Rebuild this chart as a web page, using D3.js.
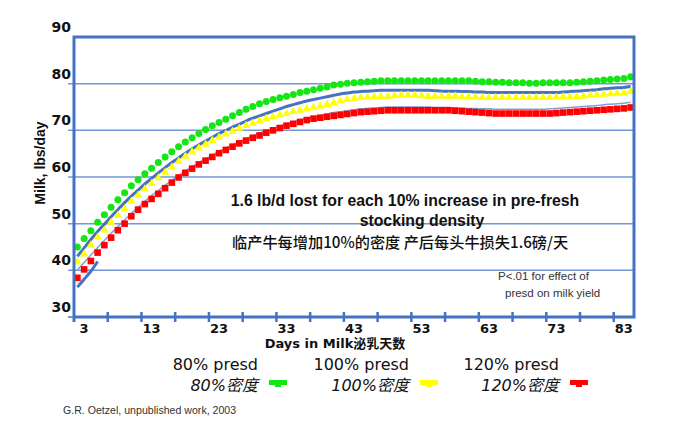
<!DOCTYPE html>
<html lang="zh">
	<head>
		<meta charset="utf-8">
		<title>Milk yield by pre-fresh stocking density</title>
		<style>
			body { margin: 0; background: #fff; }
			#graph text { fill: #111; }
		</style>
	</head>
	<body>
		<svg id="graph" width="682" height="428"></svg>
		<script src="https://d3js.org/d3.v7.min.js"></script>
		<script>
			"use strict";

			// days in milk 2..84, one category per day
			var days = d3.range(2, 85);
			var dayLabels = [3, 13, 23, 33, 43, 53, 63, 73, 83];
			var yTicks = [30, 40, 50, 60, 70, 80, 90];

			var green80 = [
				45.0, 46.8, 48.5, 50.3, 51.9, 53.5, 55.1, 56.6, 58.1, 59.4,
				60.7, 61.9, 63.1, 64.3, 65.4, 66.5, 67.5, 68.4, 69.3, 70.2,
				71.0, 71.7, 72.4, 73.1, 73.8, 74.5, 75.1, 75.7, 76.2, 76.6,
				77.0, 77.3, 77.7, 78.1, 78.4, 78.7, 79.0, 79.3, 79.7, 79.9,
				80.1, 80.2, 80.3, 80.4, 80.5, 80.6, 80.6, 80.6, 80.6, 80.6,
				80.6, 80.6, 80.6, 80.6, 80.6, 80.6, 80.6, 80.6, 80.6, 80.5,
				80.4, 80.4, 80.3, 80.3, 80.2, 80.2, 80.2, 80.1, 80.1, 80.2,
				80.2, 80.2, 80.2, 80.2, 80.3, 80.4, 80.5, 80.6, 80.8, 80.9,
				81.0, 81.1, 81.5
			];
			var yellow100 = [
				41.8, 43.5, 45.4, 47.1, 48.6, 50.3, 51.8, 53.2, 54.8, 56.1,
				57.4, 58.6, 59.8, 61.0, 62.1, 63.3, 64.4, 65.4, 66.2, 67.0,
				67.8, 68.5, 69.2, 69.8, 70.4, 71.0, 71.5, 72.0, 72.5, 72.9,
				73.3, 73.6, 74.0, 74.3, 74.6, 74.9, 75.2, 75.5, 75.9, 76.3,
				76.6, 76.8, 77.0, 77.1, 77.2, 77.2, 77.3, 77.4, 77.5, 77.5,
				77.5, 77.4, 77.3, 77.3, 77.3, 77.3, 77.3, 77.2, 77.2, 77.1,
				77.0, 77.0, 77.0, 77.0, 77.0, 77.0, 77.0, 77.0, 77.0, 77.0,
				77.0, 77.1, 77.2, 77.2, 77.2, 77.3, 77.5, 77.6, 77.7, 77.8,
				77.9, 78.0, 78.3
			];
			var red120 = [
				38.4, 40.2, 42.0, 43.8, 45.4, 47.0, 48.6, 50.0, 51.6, 53.0,
				54.2, 55.3, 56.4, 57.6, 58.8, 59.9, 60.9, 61.8, 62.7, 63.5,
				64.3, 65.1, 65.8, 66.5, 67.2, 67.8, 68.4, 68.9, 69.5, 70.0,
				70.5, 71.0, 71.4, 71.8, 72.2, 72.5, 72.7, 72.9, 73.1, 73.3,
				73.5, 73.7, 73.9, 74.0, 74.1, 74.2, 74.3, 74.3, 74.3, 74.3,
				74.3, 74.3, 74.3, 74.3, 74.3, 74.3, 74.2, 74.1, 74.0, 73.9,
				73.8, 73.7, 73.6, 73.6, 73.6, 73.6, 73.6, 73.6, 73.6, 73.6,
				73.6, 73.7, 73.8, 73.9, 74.0, 74.1, 74.2, 74.3, 74.4, 74.5,
				74.6, 74.7, 74.9
			];
			// fitted curves drawn behind the markers
			var upperLine = [
				43.0, 44.8, 46.6, 48.3, 49.9, 51.5, 53.0, 54.5, 55.9, 57.2,
				58.5, 59.7, 60.9, 62.0, 63.1, 64.1, 65.1, 66.0, 66.9, 67.7,
				68.5, 69.3, 70.0, 70.7, 71.3, 72.0, 72.6, 73.1, 73.6, 74.1,
				74.6, 75.1, 75.5, 75.9, 76.3, 76.6, 76.9, 77.2, 77.5, 77.8,
				78.0, 78.2, 78.3, 78.4, 78.5, 78.6, 78.6, 78.6, 78.6, 78.6,
				78.6, 78.6, 78.6, 78.5, 78.4, 78.4, 78.4, 78.3, 78.3, 78.2,
				78.2, 78.1, 78.1, 78.1, 78.1, 78.1, 78.1, 78.1, 78.1, 78.1,
				78.1, 78.1, 78.2, 78.3, 78.4, 78.5, 78.6, 78.7, 78.9, 79.0,
				79.1, 79.2, 79.4
			];
			var thinLine = [
				40.1, 41.7, 43.3, 44.9, 46.4, 47.9, 49.4, 50.8, 52.2, 53.5,
				54.8, 56.0, 57.1, 58.2, 59.3, 60.3, 61.3, 62.2, 63.1, 63.9,
				64.7, 65.5, 66.2, 66.9, 67.6, 68.2, 68.8, 69.4, 69.9, 70.4,
				70.9, 71.4, 71.8, 72.2, 72.6, 72.9, 73.2, 73.5, 73.8, 74.0,
				74.2, 74.4, 74.6, 74.7, 74.8, 74.9, 75.0, 75.0, 75.0, 75.0,
				75.0, 75.0, 75.0, 74.9, 74.9, 74.9, 74.8, 74.8, 74.7, 74.7,
				74.6, 74.6, 74.5, 74.5, 74.5, 74.5, 74.5, 74.5, 74.5, 74.5,
				74.6, 74.7, 74.8, 74.9, 75.0, 75.1, 75.2, 75.3, 75.5, 75.6,
				75.7, 75.8, 76.0
			];
			var lowerLine = [36.4, 38.1, 39.8, 41.9];

			var blue = "#4472c4";
			var plotLeft = 74, plotRight = 634, plotTop = 37, plotBottom = 317;

			var svg = d3.select("#graph");
			var x = d3.scaleBand().domain(days).range([plotLeft, plotRight]).padding(0);
			var y = d3.scaleLinear().domain([30, 90]).range([plotBottom, plotTop]);
			var cx = function(d){ return x(d) + x.bandwidth() / 2; };

			// horizontal gridlines
			svg.append("g")
				.selectAll("line")
				.data(yTicks.filter(function(v){ return v > 30 && v < 90; }))
				.enter()
				.append("line")
				.attr("x1", plotLeft - 6)
				.attr("x2", plotRight)
				.attr("y1", function(d){ return y(d); })
				.attr("y2", function(d){ return y(d); })
				.attr("stroke", "#7396d6")
				.attr("stroke-width", 1.5);

			// fitted lines
			var line = d3.line()
				.x(function(d, i){ return cx(days[i]); })
				.y(function(d){ return y(d); })
				.curve(d3.curveMonotoneX);
			svg.append("path").datum(upperLine).attr("d", line)
				.attr("fill", "none").attr("stroke", blue).attr("stroke-width", 3);
			svg.append("path").datum(thinLine).attr("d", line)
				.attr("fill", "none").attr("stroke", "#7f9fd8").attr("stroke-width", 1.5);
			svg.append("path").datum(lowerLine).attr("d", line)
				.attr("fill", "none").attr("stroke", blue).attr("stroke-width", 3);

			// markers
			svg.append("g")
				.selectAll("circle")
				.data(green80)
				.enter()
				.append("circle")
				.attr("cx", function(d, i){ return cx(days[i]); })
				.attr("cy", function(d){ return y(d); })
				.attr("r", 3.5)
				.attr("fill", "#14e614");

			var tri = d3.symbol().type(d3.symbolTriangle).size(30);
			svg.append("g")
				.selectAll("path")
				.data(yellow100)
				.enter()
				.append("path")
				.attr("d", tri)
				.attr("transform", function(d, i){ return "translate(" + cx(days[i]) + "," + y(d) + ")"; })
				.attr("fill", "#ffff00");

			svg.append("g")
				.selectAll("rect")
				.data(red120)
				.enter()
				.append("rect")
				.attr("x", function(d, i){ return cx(days[i]) - 3.3; })
				.attr("y", function(d){ return y(d) - 3.3; })
				.attr("width", 6.6)
				.attr("height", 6.6)
				.attr("fill", "#ff0000");

			// plot frame
			svg.append("path")
				.attr("d", "M" + plotLeft + "," + (plotBottom + 5) + "V" + plotTop + "H" + plotRight + "V" + plotBottom + "H" + plotLeft)
				.attr("fill", "none")
				.attr("stroke", blue)
				.attr("stroke-width", 3);
			svg.append("line")
				.attr("x1", plotLeft - 6).attr("x2", plotLeft)
				.attr("y1", plotBottom).attr("y2", plotBottom)
				.attr("stroke", blue).attr("stroke-width", 1.5);

			// x tick marks every 5 days (between categories)
			svg.append("g")
				.selectAll("line")
				.data(days.filter(function(d, i){ return i % 5 === 0 && i > 0; }))
				.enter()
				.append("line")
				.attr("x1", function(d){ return x(d); })
				.attr("x2", function(d){ return x(d); })
				.attr("y1", plotBottom - 5)
				.attr("y2", plotBottom + 5)
				.attr("stroke", blue)
				.attr("stroke-width", 2.5);

			// axis labels
			svg.append("g")
				.selectAll("text")
				.data(dayLabels)
				.enter()
				.append("text")
				.attr("x", function(d){ return cx(d); })
				.attr("y", plotBottom + 16)
				.attr("text-anchor", "middle")
				.style("font", "bold 13px 'DejaVu Sans', sans-serif")
				.text(function(d){ return d; });

			svg.append("g")
				.selectAll("text")
				.data(yTicks)
				.enter()
				.append("text")
				.attr("x", 71)
				.attr("y", function(d){ return y(d) - 5; })
				.attr("text-anchor", "end")
				.style("font", "bold 14px 'DejaVu Sans', sans-serif")
				.text(function(d){ return d; });

			svg.append("text")
				.attr("transform", "translate(45,163) rotate(-90)")
				.attr("text-anchor", "middle")
				.style("font", "bold 14px 'Liberation Sans', Arial, sans-serif")
				.text("Milk, lbs/day");

			svg.append("text")
				.attr("x", 335).attr("y", 348)
				.attr("text-anchor", "middle")
				.style("font", "bold 13px 'DejaVu Sans', 'Noto Sans CJK SC', sans-serif")
				.text("Days in Milk泌乳天数");

			// annotations
			svg.append("text")
				.attr("x", 405).attr("y", 206)
				.attr("text-anchor", "middle")
				.style("font", "bold 15.8px 'Liberation Sans', Arial, sans-serif")
				.text("1.6 lb/d lost for each 10% increase in pre-fresh");
			svg.append("text")
				.attr("x", 422).attr("y", 225.5)
				.attr("text-anchor", "middle")
				.style("font", "bold 15.8px 'Liberation Sans', Arial, sans-serif")
				.text("stocking density");
			svg.append("text")
				.attr("x", 232).attr("y", 247.5)
				.style("font", "500 15.2px 'Noto Sans CJK SC', sans-serif")
				.text("临产牛每增加10%的密度 产后每头牛损失1.6磅/天");

			svg.append("text")
				.attr("x", 498).attr("y", 280)
				.style("font", "11.5px 'Liberation Sans', Arial, sans-serif")
				.style("fill", "#333")
				.text("P<.01 for effect of");
			svg.append("text")
				.attr("x", 505).attr("y", 297)
				.style("font", "11.5px 'Liberation Sans', Arial, sans-serif")
				.style("fill", "#333")
				.text("presd on milk yield");

			// legend
			var legendNames = ["80% presd", "100% presd", "120% presd"];
			var legendZh = ["80%密度", "100%密度", "120%密度"];
			var legendColors = ["#14e614", "#ffff00", "#ff0000"];
			var legendX = [258, 409, 559];
			var lg = svg.append("g")
				.selectAll("g")
				.data(legendNames)
				.enter()
				.append("g");
			lg.append("text")
				.attr("x", function(d, i){ return legendX[i]; })
				.attr("y", 370)
				.attr("text-anchor", "end")
				.style("font", "16px 'DejaVu Sans', sans-serif")
				.text(function(d){ return d; });
			lg.append("text")
				.attr("x", function(d, i){ return legendX[i]; })
				.attr("y", 391)
				.attr("text-anchor", "end")
				.style("font", "italic 16px 'DejaVu Sans', 'Noto Sans CJK SC', sans-serif")
				.text(function(d, i){ return legendZh[i]; });
			lg.append("rect")
				.attr("x", function(d, i){ return legendX[i] + 11; })
				.attr("y", 380)
				.attr("width", 18)
				.attr("height", 5)
				.attr("fill", function(d, i){ return legendColors[i]; });
			lg.append("rect")
				.attr("x", function(d, i){ return legendX[i] + 17; })
				.attr("y", 384)
				.attr("width", 6)
				.attr("height", 3)
				.attr("fill", function(d, i){ return legendColors[i]; });

			svg.append("text")
				.attr("x", 63).attr("y", 414)
				.style("font", "10.6px 'Liberation Sans', Arial, sans-serif")
				.style("fill", "#333")
				.text("G.R. Oetzel, unpublished work, 2003");
		</script>
	</body>
</html>
